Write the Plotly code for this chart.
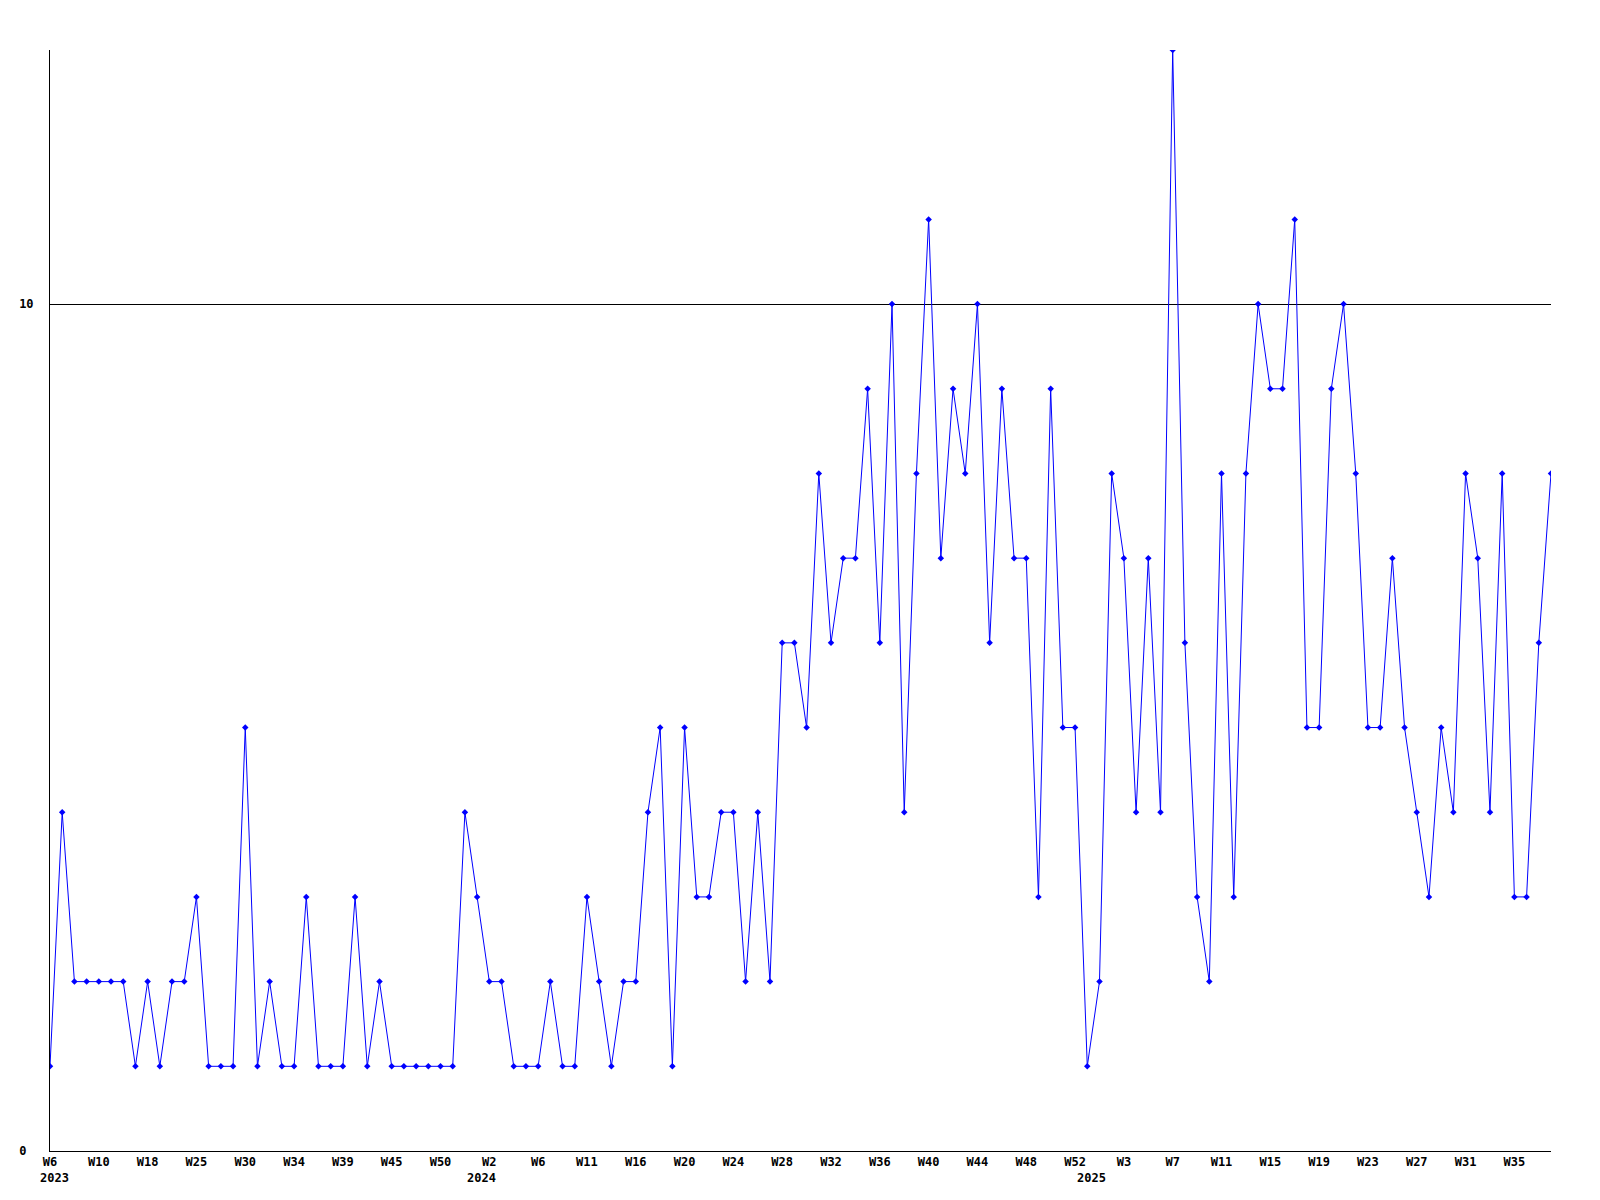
import plotly.graph_objects as go

# ---- data ----
weeks_2023 = [6, 7, 8, 9, 10, 11, 13, 15, 18, 20, 22, 23, 25, 26, 27, 29, 30, 31,
              32, 33, 34, 35, 36, 38, 39, 40, 42, 44, 45, 46, 47, 49, 50, 51, 52]
weeks_2024 = [1, 2, 3, 4, 5, 6, 7, 8, 10, 11, 12, 13, 15, 16, 17, 18, 19, 20, 21,
              22, 23, 24, 25, 26, 27, 28, 29, 30, 31, 32, 33, 34, 35, 36, 37, 38,
              39, 40, 41, 42, 43, 44, 45, 46, 47, 48, 49, 50, 51, 52]
weeks_2025 = [0, 1, 2, 3, 4, 5, 6, 7, 8, 9, 10, 11, 12, 13, 14, 15, 16, 17, 18,
              19, 20, 21, 22, 23, 24, 25, 26, 27, 28, 29, 30, 31, 32, 33, 34, 35,
              36, 37, 38]

counts = [1, 4, 2, 2, 2, 2, 2, 1, 2, 1, 2, 2, 3, 1, 1, 1, 5, 1, 2, 1,
          1, 3, 1, 1, 1, 3, 1, 2, 1, 1, 1, 1, 1, 1, 4, 3, 2, 2, 1, 1,
          1, 2, 1, 1, 3, 2, 1, 2, 2, 4, 5, 1, 5, 3, 3, 4, 4, 2, 4, 2,
          6, 6, 5, 8, 6, 7, 7, 9, 6, 10, 4, 8, 11, 7, 9, 8, 10, 6, 9, 7,
          7, 3, 9, 5, 5, 1, 2, 8, 7, 4, 7, 4, 13, 6, 3, 2, 8, 3, 8, 10,
          9, 9, 11, 5, 5, 9, 10, 8, 5, 5, 7, 5, 4, 3, 5, 4, 8, 7, 4, 8,
          3, 3, 6, 8]

y_ticks = [0, 10]
y_tick_text = ["0\u00a0", "10"]

# ---- build categories ----
years = [2023] * len(weeks_2023) + [2024] * len(weeks_2024) + [2025] * len(weeks_2025)
weeks = weeks_2023 + weeks_2024 + weeks_2025
cats = [f"{y}-W{w:02d}" for y, w in zip(years, weeks)]

tick_step = 4
tickvals = cats[::tick_step]
ticktext = [f"W{w}" for w in weeks[::tick_step]]

FONT = "DejaVu Sans Mono"

fig = go.Figure()
fig.add_trace(go.Scatter(
    x=cats, y=counts, mode="lines+markers",
    line=dict(color="#0000ff", width=1),
    marker=dict(symbol="diamond", size=5, color="#0000ff"),
    showlegend=False, hoverinfo="x+y",
))

# year labels at the first week of each year
first_of_year = {}
for c, y in zip(cats, years):
    first_of_year.setdefault(y, c)
for y, c in first_of_year.items():
    fig.add_annotation(
        x=c, xref="x", y=0, yref="paper", text=str(y), showarrow=False,
        xanchor="left", yanchor="middle", xshift=-12.5, yshift=-27,
        font=dict(family=FONT, size=12, color="black", weight="bold"),
    )

fig.update_layout(
    width=1584, height=1184,
    margin=dict(l=42, r=41, t=42, b=41, autoexpand=False),
    plot_bgcolor="white", paper_bgcolor="white",
    xaxis=dict(
        type="category", categoryorder="array", categoryarray=cats,
        range=[0, len(cats) - 1],
        tickmode="array", tickvals=tickvals, ticktext=ticktext,
        showgrid=False, showline=True, linecolor="black", linewidth=1,
        ticks="", tickangle=0,
        tickfont=dict(family=FONT, size=12, color="black", weight="bold"),
        zeroline=False, fixedrange=True,
    ),
    yaxis=dict(
        range=[0, 13],
        tickmode="array", tickvals=y_ticks, ticktext=y_tick_text,
        showgrid=True, gridcolor="black", gridwidth=1,
        showline=True, linecolor="black", linewidth=1,
        ticks="", ticklabelstandoff=13,
        tickfont=dict(family=FONT, size=12, color="black", weight="bold"),
        zeroline=False, fixedrange=True,
    ),
)

fig.write_html("out.html")
